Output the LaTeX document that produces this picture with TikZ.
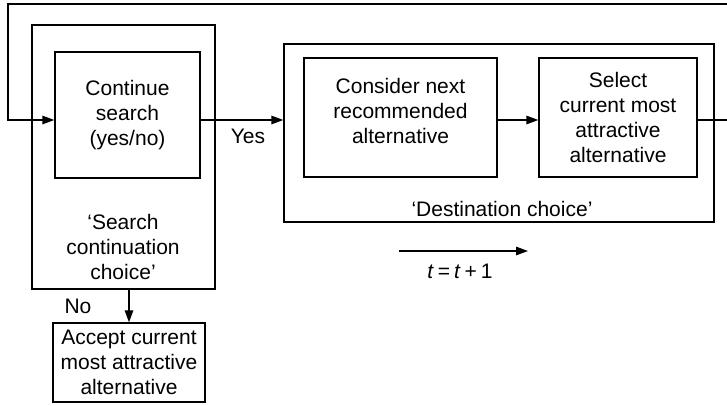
\documentclass[tikz,border=0pt]{standalone}
\usepackage{fontspec}
\setmainfont{Liberation Sans}
\usetikzlibrary{arrows.meta}
\begin{document}
\begin{tikzpicture}[x=1pt,y=-1pt,
  line width=1.4pt,
  font=\fontsize{21}{25}\selectfont,
  box/.style={draw, rectangle, inner sep=0pt, align=center},
  flow/.style={-{Triangle[length=12pt,width=8.5pt]}},
  lbl/.style={inner sep=0pt, anchor=base, align=center}]
  \useasboundingbox (0,0) rectangle (727,405);
  \clip (0,0) rectangle (727,405);

  % level of the main horizontal flow line
  \coordinate (rail) at (0,120);

  % search continuation part
  \node[box, minimum width=183pt, minimum height=264pt] (search) at (123.5,157) {};
  \node[box, minimum width=145pt, minimum height=126pt] (cont) at (127.5,115)
    {Continue\\search\\(yes/no)};
  \node[inner sep=0pt, align=center] (searchlbl) at (123,247)
    {`Search\\continuation\\choice'};

  % destination choice part
  \node[box, minimum width=430pt, minimum height=178pt] (dest) at (499,133) {};
  \node[box, minimum width=193pt, minimum height=119pt,
    label={[align=center, inner sep=0pt, yshift=6.5pt]center:Consider next\\recommended\\alternative}]
    (consider) at (400.5,117.5) {};
  \node[box, minimum width=158pt, minimum height=119pt] (select) at (618,117.5)
    {Select\\current most\\attractive\\alternative};
  \node[lbl] (destlbl) at (502,216) {`Destination choice'};

  % outcome when the search stops
  \node[box, minimum width=152pt, minimum height=79pt] (accept) at (129,362.5)
    {Accept current\\most attractive\\alternative};

  % feedback loop and flow connectors
  \coordinate (loopTop) at (740,4);
  \coordinate (loopCorner) at (8,4);
  \coordinate (loopOut) at (740,120);
  \draw[flow] (loopTop) -- (loopCorner) -- (loopCorner |- rail) -- (cont.west |- rail);
  \draw[flow] (cont.east |- rail) -- (dest.west |- rail);
  \draw[flow] (consider.east |- rail) -- (select.west |- rail);
  \draw (select.east |- rail) -- (loopOut);
  \draw[flow] (accept.north |- search.south) -- (accept.north);

  \node[lbl] (yes) at (248,143) {Yes};
  \node[lbl] (no) at (78,313) {No};

  % time step
  \coordinate (t1) at (399,251);
  \coordinate (t2) at (528,251);
  \draw[flow] (t1) -- (t2);
  \node[lbl] (tstep) at (460,278)
    {\textit{t}\hspace{4pt}=\hspace{4pt}\textit{t}\hspace{4pt}+\hspace{4pt}1};
\end{tikzpicture}
\end{document}
